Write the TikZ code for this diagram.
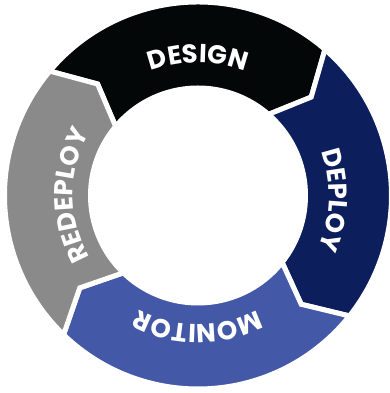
\documentclass[tikz,border=0pt]{standalone}
\usepackage{fontspec}
\setmainfont{Poppins}
\usetikzlibrary{decorations.text}
\definecolor{designblack}{HTML}{040707}
\definecolor{deploynavy}{HTML}{0C1F5C}
\definecolor{monitorblue}{HTML}{4359A8}
\definecolor{redeploygray}{HTML}{8A8A8A}
\tikzstyle{segment}=[draw=white,line width=5pt,line join=miter]
\tikzstyle{ringtext}=[decorate,decoration={text along path,text align=center,text color=white,text format delimiters={|}{|}}]
\newcommand{\ringfont}{\fontsize{26}{28}\selectfont\bfseries}

\begin{document}
\begin{tikzpicture}
	\useasboundingbox (0,0) rectangle (390pt,393pt);
	\begin{scope}[shift={(198pt,197.5pt)}]
	% ring segments, clockwise
	\filldraw[segment, fill=designblack] (140:193.5pt) arc[start angle=140, end angle=49, radius=193.5pt] -- (41:150pt) -- (49:107.5pt) arc[start angle=49, end angle=140, radius=107.5pt] -- (132:150pt) -- cycle;
	\filldraw[segment, fill=deploynavy] (49:193.5pt) arc[start angle=49, end angle=-38.5, radius=193.5pt] -- (-46.5:150pt) -- (-38.5:107.5pt) arc[start angle=-38.5, end angle=49, radius=107.5pt] -- (41:150pt) -- cycle;
	\filldraw[segment, fill=monitorblue] (-38.5:193.5pt) arc[start angle=-38.5, end angle=-134, radius=193.5pt] -- (-142:150pt) -- (-134:107.5pt) arc[start angle=-134, end angle=-38.5, radius=107.5pt] -- (-46.5:150pt) -- cycle;
	\filldraw[segment, fill=redeploygray] (226:193.5pt) arc[start angle=226, end angle=140, radius=193.5pt] -- (132:150pt) -- (140:107.5pt) arc[start angle=140, end angle=226, radius=107.5pt] -- (218:150pt) -- cycle;
	
	% labels
	\path[ringtext, decoration={text={|\ringfont|DESIGN}}] (150:133pt) arc[start angle=150, end angle=30, radius=133pt];
	\path[ringtext, decoration={text={|\ringfont|DEPLOY}}] (58:131pt) arc[start angle=58, end angle=-62, radius=131pt];
	\path[ringtext, decoration={text={|\ringfont|MONITOR}}] (-30:129pt) arc[start angle=-30, end angle=-150, radius=129pt];
	\path[ringtext, decoration={text={|\ringfont|REDEPLOY}}] (240:125pt) arc[start angle=240, end angle=120, radius=125pt];
	\end{scope}
\end{tikzpicture}
\end{document}
